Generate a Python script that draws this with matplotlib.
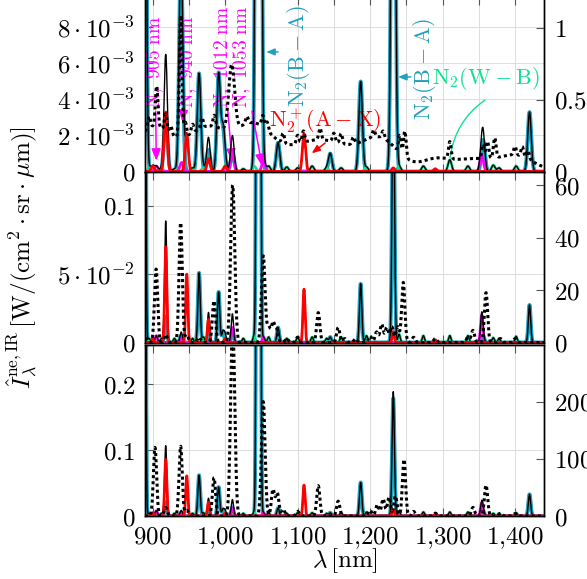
import numpy as np
import matplotlib
matplotlib.use("Agg")
import matplotlib.pyplot as plt
from matplotlib.ticker import FixedLocator, MultipleLocator, FuncFormatter

plt.rcParams["mathtext.fontset"] = "cm"
plt.rcParams["font.family"] = "serif"
plt.rcParams["font.serif"] = ["DejaVu Serif"]

# ============================================================
# DATA
# ============================================================
# line positions [nm]; heights per panel in left-axis units
b_lines = [887, 918, 939, 964, 977, 991, 997, 1010, 1046, 1073, 1145, 1187, 1232, 1356, 1420]
b_h1 = [100e-3, 3.2e-3, 12e-3, 5.45e-3, 1.2e-3, 5.4e-3, 2.3e-3, 1.0e-3, 150e-3, 1.6e-3, 1.0e-3, 5.0e-3, 37e-3, 1.75e-3, 3.3e-3]
b_h2 = [3.0, 0.019, 0.005, 0.051, 0.005, 0.037, 0.008, 0.010, 2.5, 0.011, 0.004, 0.043, 0.20, 0.005, 0.0275]
b_h3 = [6.0, 0.021, 0.005, 0.062, 0.006, 0.044, 0.010, 0.013, 5.0, 0.012, 0.005, 0.051, 0.179, 0.008, 0.033]

r_lines = [900, 918, 947, 977, 1000, 1108.8, 1232, 1290]
r_h1 = [0.3e-3, 3.3e-3, 2.1e-3, 0.7e-3, 0.3e-3, 2.1e-3, 0.2e-3, 0.15e-3]
r_h2 = [0.003, 0.070, 0.050, 0.017, 0.003, 0.039, 0.008, 0.002]
r_h3 = [0.005, 0.086, 0.061, 0.021, 0.004, 0.047, 0.010, 0.003]

m_lines = [905, 940, 1010, 1053, 1354]
m_h1 = [0.3e-3, 0.5e-3, 1.0e-3, 0.6e-3, 0.9e-3]
m_h2 = [0.005, 0.003, 0.011, 0.004, 0.020]
m_h3 = [0.008, 0.004, 0.012, 0.005, 0.020]

g_lines = [895, 912, 930, 955, 970, 1000, 1025, 1040, 1060, 1085, 1100, 1120,
           1140, 1160, 1195, 1240, 1273.5, 1310, 1335, 1370, 1378, 1401.5]
g_h1 = [0.2e-3, 0.15e-3, 0.15e-3, 0.2e-3, 0.2e-3, 0.15e-3, 0.15e-3, 0.3e-3, 0.3e-3, 0.25e-3, 0.2e-3, 0.3e-3,
        0.2e-3, 0.2e-3, 0.25e-3, 0.3e-3, 0.3e-3, 0.65e-3, 0.3e-3, 0.35e-3, 0.2e-3, 0.3e-3]
g_h2 = [0.003, 0.003, 0.003, 0.003, 0.004, 0.003, 0.003, 0.005, 0.004, 0.003, 0.004, 0.004,
        0.003, 0.004, 0.005, 0.006, 0.005, 0.005, 0.005, 0.0035, 0.003, 0.0045]
g_h3 = [0.004, 0.004, 0.004, 0.004, 0.005, 0.004, 0.004, 0.006, 0.005, 0.004, 0.005, 0.005,
        0.004, 0.005, 0.006, 0.007, 0.006, 0.006, 0.006, 0.004, 0.004, 0.005]

# dotted spectrum (right axis): centre, height, width
d1_center = [900, 975, 1040, 1130, 1215, 1290, 1340, 1400,
             895, 905.5, 918, 925, 938.6, 945, 955, 968, 985, 1009, 1030, 1052, 1058, 1080,
             1100, 1108, 1131, 1150, 1160, 1177, 1205, 1218, 1241, 1248, 1310, 1356, 1362,
             1372, 1400, 1410, 1418]
d1_height = [0.30, 0.30, 0.28, 0.22, 0.20, 0.08, 0.08, 0.11,
             0.08, 0.28, 0.12, 0.06, 0.85, 0.10, 0.06, 0.07, 0.08, 0.45, 0.05, 0.08, 0.06, 0.07,
             0.06, 0.08, 0.08, 0.06, 0.07, 0.05, 0.05, 0.05, 0.12, 0.18, 0.12, 0.10, 0.12,
             0.14, 0.06, 0.07, 0.06]
d1_width = [25, 30, 25, 45, 25, 20, 25, 25,
            1.8, 1.8, 1.8, 1.8, 1.8, 1.8, 1.8, 1.8, 1.8, 4.0, 1.8, 1.8, 1.8, 1.8,
            1.8, 1.8, 1.8, 1.8, 1.8, 1.8, 1.8, 1.8, 1.8, 1.8, 1.8, 1.8, 1.8,
            1.8, 1.8, 1.8, 1.8]

d2_center = [890, 904.7, 918, 938.6, 947, 964, 984.6, 1010.4, 1052.6, 1060, 1066, 1071, 1085,
             1100, 1128.5, 1156, 1165, 1180, 1200, 1209, 1216, 1223, 1230, 1238, 1245.8,
             1260, 1290, 1335, 1342, 1360, 1380, 1400]
d2_height = [1.5, 28, 3, 45.7, 3, 2, 15.9, 60, 33, 6, 7.6, 5, 1.5,
             2, 11.4, 5.7, 1.5, 1.5, 2.5, 4, 7, 5.7, 6, 6, 22.9,
             2, 1.5, 2, 4.6, 19, 1.5, 1.5]
d2_width = [2.2, 2.2, 2.2, 2.2, 2.2, 2.2, 2.2, 2.8, 2.5, 2.2, 2.2, 2.2, 2.2,
            2.2, 2.2, 2.2, 2.2, 2.2, 2.2, 2.2, 2.2, 2.2, 2.2, 2.2, 2.2,
            2.2, 2.2, 2.2, 2.2, 2.2, 2.2, 2.2]

d3_center = [903.2, 918, 938.6, 947, 984.6, 1010.4, 1052.6, 1066, 1072, 1080, 1100, 1128.5,
             1156, 1200, 1210, 1218, 1226, 1235, 1246.8, 1260, 1290, 1342, 1360, 1380, 1400]
d3_height = [120, 15, 122, 10, 67, 340, 200, 46, 40, 12, 8, 53,
             26, 10, 20, 30, 33, 35, 99, 8, 5, 15, 54, 5, 4]
d3_width = [2.2, 2.2, 2.2, 2.2, 2.2, 2.8, 2.5, 2.2, 2.2, 2.2, 2.2, 2.2,
            2.2, 2.2, 2.2, 2.2, 2.2, 2.2, 2.2, 2.2, 2.2, 2.2, 2.2, 2.2, 2.2]

line_width = [2.4, 1.6, 1.6]   # instrumental width per panel [nm]

left_ticks = [[0, 2e-3, 4e-3, 6e-3, 8e-3], [0, 0.05, 0.1], [0, 0.1, 0.2]]
left_labels = [["$0$", r"$2\cdot10^{-3}$", r"$4\cdot10^{-3}$", r"$6\cdot10^{-3}$", r"$8\cdot10^{-3}$"],
               ["$0$", r"$5\cdot10^{-2}$", "$0.1$"],
               ["$0$", "$0.1$", "$0.2$"]]
left_ylim = [9.69e-3, 0.1244, 0.260]
right_ticks = [[0, 0.5, 1], [0, 20, 40, 60], [0, 100, 200]]
right_labels = [["$0$", "$0.5$", "$1$"], ["$0$", "$20$", "$40$", "$60$"], ["$0$", "$100$", "$200$"]]
right_ylim = [1.212, 64.8, 299]

# ============================================================
# HELPERS
# ============================================================
WL = np.linspace(885, 1445, 4000)

C_B = "#23a0be"
C_R = "#ff0000"
C_M = "#ff00ff"
C_G = "#10e090"


def profile(centers, heights, width):
    c = np.asarray(centers, float)[None, :]
    h = np.asarray(heights, float)[None, :]
    w = np.broadcast_to(np.asarray(width, float), c.shape[1:])[None, :]
    return (h * np.exp(-0.5 * ((WL[:, None] - c) / w) ** 2)).sum(axis=1)


def style_axes(ax, twin, i):
    ax.set_xlim(889.4, 1440)
    ax.set_ylim(0, left_ylim[i])
    twin.set_ylim(0, right_ylim[i])
    ax.xaxis.set_major_locator(MultipleLocator(50))
    if i == 2:
        ax.xaxis.set_major_formatter(FuncFormatter(
            lambda v, p: ("$%d$" % v if v < 1000 else "$%d{,}%03d$" % (v // 1000, v % 1000))
            if int(round(v)) % 100 == 0 else ""))
    else:
        ax.set_xticklabels([])
    ax.yaxis.set_major_locator(FixedLocator(left_ticks[i]))
    ax.set_yticklabels(left_labels[i])
    twin.yaxis.set_major_locator(FixedLocator(right_ticks[i]))
    twin.set_yticklabels(right_labels[i])
    ax.tick_params(axis="both", direction="in", length=6, width=0.8, color="#555555",
                   labelsize=18, top=True, bottom=True, pad=7)
    twin.tick_params(axis="y", direction="in", length=6, width=0.8, color="#555555",
                     labelsize=18, pad=7)
    ax.grid(True, color="#dddddd", lw=0.7)
    ax.set_axisbelow(True)
    for a in (ax, twin):
        for s in a.spines.values():
            s.set_linewidth(1.0)


# ============================================================
# FIGURE
# ============================================================
fig = plt.figure(figsize=(5.87, 5.79), dpi=100)
W, H = 587.0, 579.0
x0, x1 = 145 / W, 544 / W
panels_px = [(-3, 171.5), (172.5, 342.5), (345, 516)]

sets = [
    (b_h1, r_h1, m_h1, g_h1, d1_center, d1_height, d1_width),
    (b_h2, r_h2, m_h2, g_h2, d2_center, d2_height, d2_width),
    (b_h3, r_h3, m_h3, g_h3, d3_center, d3_height, d3_width),
]

axes = []
for i, (top, bot) in enumerate(panels_px):
    ax = fig.add_axes([x0, 1 - bot / H, x1 - x0, (bot - top) / H])
    twin = ax.twinx()
    bh, rh, mh, gh, dc, dh, dw = sets[i]
    w = line_width[i]
    sb = profile(b_lines, bh, w)
    sr = profile(r_lines, rh, w * 0.9)
    sm = profile(m_lines, mh, w)
    sg = profile(g_lines, gh, w)
    total = sb + sr + sm + sg
    ax.plot(WL, sb, color=C_B, lw=2.8, zorder=2)
    ax.plot(WL, sg, color=C_G, lw=2.0, zorder=3)
    ax.plot(WL, sm, color=C_M, lw=2.0, zorder=4)
    ax.plot(WL, total, color="black", lw=1.0, zorder=5)
    ax.plot(WL, sr, color=C_R, lw=2.0, zorder=6)
    twin.plot(WL, profile(dc, dh, dw), color="black", lw=2.2, linestyle=(0, (1, 1)))
    style_axes(ax, twin, i)
    axes.append(ax)

ax1 = axes[0]
aprops = dict(arrowstyle="-|>,head_length=0.5,head_width=0.2", lw=1.1, shrinkA=0, shrinkB=0)

# atomic nitrogen lines
for label, xy, xyt in [
    (r"$\mathrm{N,\ 905\ nm}$", (905, 0.6e-3), (903.2, 3.5e-3)),
    (r"$\mathrm{N,\ 940\ nm}$", (940.9, 2.75e-3), (948.7, 3.5e-3)),
    (r"$\mathrm{N,\ 1012\ nm}$", (1009.4, 0.6e-3), (997.6, 3.5e-3)),
    (r"$\mathrm{N,\ 1053\ nm}$", (1051, 0.3e-3), (1023.5, 3.5e-3)),
]:
    ax1.annotate(label, xy=xy, xytext=xyt, rotation=90, ha="center", va="bottom",
                 color=C_M, fontsize=14, arrowprops=dict(color=C_M, **aprops),
                 annotation_clip=False)

# N2(B-A)
ax1.text(1100.6, 3.58e-3, r"$\mathrm{N_2(B-A)}$", rotation=90, ha="center", va="bottom",
         color=C_B, fontsize=16)
ax1.annotate("", xy=(1056.5, 6.64e-3), xytext=(1073, 6.64e-3),
             arrowprops=dict(color=C_B, **aprops))
ax1.text(1274.6, 2.86e-3, r"$\mathrm{N_2(B-A)}$", rotation=90, ha="center", va="bottom",
         color=C_B, fontsize=16)
ax1.annotate("", xy=(1238.5, 5.25e-3), xytext=(1256, 5.25e-3),
             arrowprops=dict(color=C_B, **aprops))

# N2+(A-X)
ax1.text(1138, 2.8e-3, r"$\mathrm{N_2^+(A-X)}$", ha="center", va="center",
         color=C_R, fontsize=16)
ax1.annotate("", xy=(1119.4, 1.01e-3), xytext=(1138, 1.58e-3),
             arrowprops=dict(color=C_R, **aprops))

# N2(W-B)
ax1.text(1360, 5.19e-3, r"$\mathrm{N_2(W-B)}$", ha="center", va="center",
         color=C_G, fontsize=16)
ax1.annotate("", xy=(1310.3, 0.75e-3), xytext=(1358.6, 3.97e-3),
             arrowprops=dict(arrowstyle="-", color=C_G, lw=1.0, shrinkA=0, shrinkB=0,
                             connectionstyle="arc3,rad=0.22"))

fig.text(22 / W, 1 - 258 / H,
         r"$\hat{I}_\lambda^{\mathrm{ne,IR}}\,[\mathrm{W}/(\mathrm{cm}^2\cdot\mathrm{sr}\cdot\mu\mathrm{m})]$",
         rotation=90, ha="center", va="center", fontsize=18)
fig.text(345 / W, 1 - 561 / H, r"$\lambda\,[\mathrm{nm}]$", ha="center", va="center", fontsize=18)

fig.savefig("out.png", dpi=100)
